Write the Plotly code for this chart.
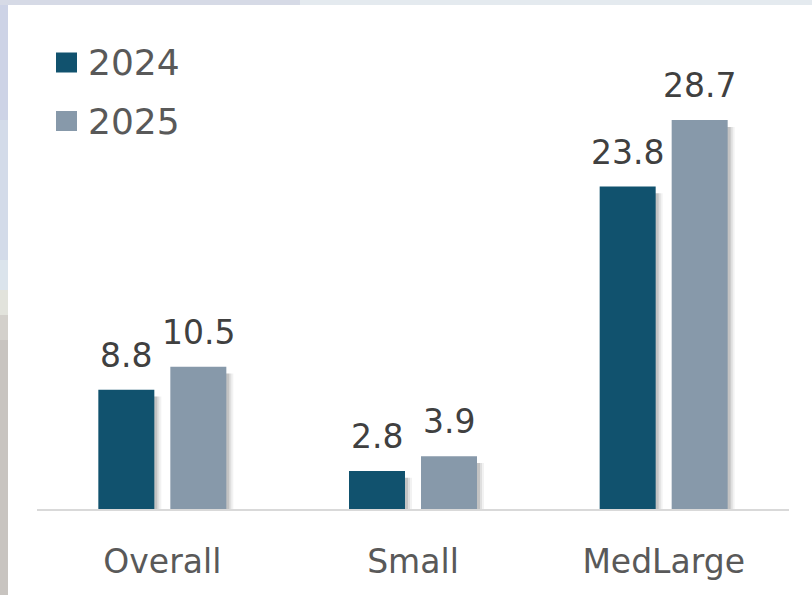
import plotly.graph_objects as go

categories = ["Overall", "Small", "MedLarge"]
series_names = ["2024", "2025"]
values_2024 = [8.8, 2.8, 23.8]
values_2025 = [10.5, 3.9, 28.7]
label_2024 = ["8.8", "2.8", "23.8"]
label_2025 = ["10.5", "3.9", "28.7"]

colors = ["#11526E", "#8799AA"]
FONT = "DejaVu Sans"

W, H = 812, 595
L, R, T, B = 37, 23, 75, 86
PW, PH = W - L - R, H - T - B
CAT_PX = PW / len(categories)
BAR_PX = 56


def px_x(px):
    return (px - L) / PW


def px_y(py):
    return (H - B - py) / PH


def off(px):
    return px / CAT_PX


fig = go.Figure()

series = [values_2024, values_2025]
labels = [label_2024, label_2025]
offsets_px = [-64, 8]

# soft shadows
for vals, o in zip(series, offsets_px):
    for sh, a in [(7, 0.05), (5, 0.08), (3, 0.12)]:
        fig.add_trace(go.Bar(
            x=categories, y=[v - 0.5 for v in vals],
            offset=off(o + sh), width=off(BAR_PX),
            marker=dict(color=f"rgba(0,0,0,{a})", line=dict(width=0)),
            showlegend=False, hoverinfo="skip"))

for name, vals, c, o in zip(series_names, series, colors, offsets_px):
    fig.add_trace(go.Bar(
        name=name, x=categories, y=vals,
        offset=off(o), width=off(BAR_PX),
        marker=dict(color=c, line=dict(width=0)),
        showlegend=False))

annotations = []
for vals, labs, o in zip(series, labels, offsets_px):
    for cat, v, t in zip(categories, vals, labs):
        annotations.append(dict(
            x=cat, y=v, xref="x", yref="y", text=t, showarrow=False,
            xanchor="center", yanchor="bottom",
            xshift=o + BAR_PX / 2, yshift=13,
            font=dict(family=FONT, size=33, color="#404040")))

shapes = []
# legend
leg_rows = [62.5, 121]
for name, c, cy in zip(series_names, colors, leg_rows):
    shapes.append(dict(type="rect", xref="paper", yref="paper",
                       x0=px_x(56), x1=px_x(77), y0=px_y(cy + 10), y1=px_y(cy - 10),
                       fillcolor=c, line=dict(width=0)))
    annotations.append(dict(x=px_x(86), y=px_y(cy), xref="paper", yref="paper",
                            text=name, showarrow=False, xanchor="left", yanchor="middle",
                            font=dict(family=FONT, size=36, color="#595959")))

# background frame (photo edge)
strip = [(0, 120, "#cdd3e6"), (120, 260, "#d3dbe9"), (260, 290, "#dbe4ec"),
         (290, 315, "#e2e3dc"), (315, 340, "#d3d0cb"), (340, 595, "#c8c4c0")]
for y0, y1, col in strip:
    shapes.append(dict(type="rect", xref="paper", yref="paper", layer="below",
                       x0=px_x(0), x1=px_x(8), y0=px_y(y1), y1=px_y(y0),
                       fillcolor=col, line=dict(width=0)))
shapes.append(dict(type="rect", xref="paper", yref="paper", layer="below",
                   x0=px_x(0), x1=px_x(W), y0=px_y(5), y1=px_y(0),
                   fillcolor="#e4eaef", line=dict(width=0)))
shapes.append(dict(type="rect", xref="paper", yref="paper", layer="below",
                   x0=px_x(0), x1=px_x(300), y0=px_y(5), y1=px_y(0),
                   fillcolor="#d6dae6", line=dict(width=0)))

fig.update_layout(
    width=W, height=H,
    margin=dict(l=L, r=R, t=T, b=B),
    barmode="overlay",
    paper_bgcolor="white", plot_bgcolor="white",
    showlegend=False,
    annotations=annotations,
    shapes=shapes,
    xaxis=dict(showline=True, linecolor="#d9d9d9", linewidth=2,
               showgrid=False, zeroline=False,
               ticks="outside", ticklen=22, tickcolor="rgba(0,0,0,0)",
               tickfont=dict(family=FONT, size=33, color="#595959")),
    yaxis=dict(range=[0, PH / 13.55], visible=False, showgrid=False, zeroline=False),
)

fig.write_html("out.html", config={"displayModeBar": False},
               post_script="document.body.style.margin='0';document.body.style.overflow='hidden';")
